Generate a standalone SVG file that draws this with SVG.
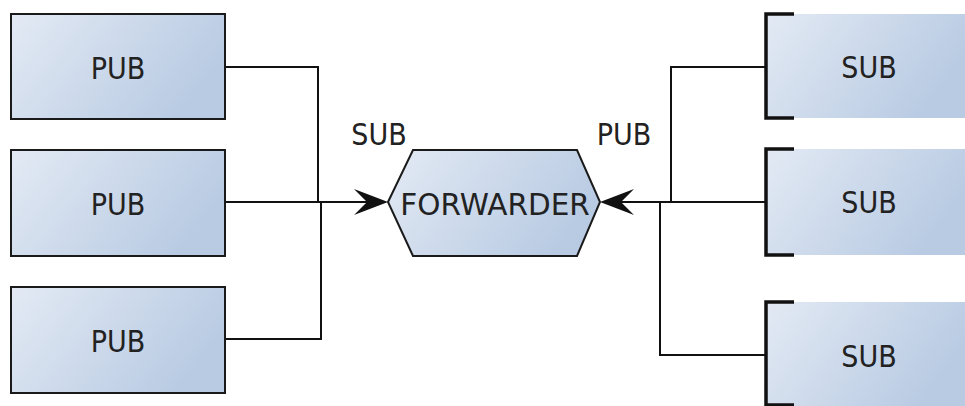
<svg xmlns="http://www.w3.org/2000/svg" width="965" height="406" viewBox="0 0 965 406">
<defs>
<linearGradient id="g" x1="0" y1="0" x2="1" y2="0.4">
<stop offset="0" stop-color="#e3eaf4"/>
<stop offset="1" stop-color="#b9cbe3"/>
</linearGradient>
<style>
.box{fill:url(#g);stroke:#1a1a1a;stroke-width:2}
.fill{fill:url(#g);stroke:none}
.br{fill:none;stroke:#111;stroke-width:3.5}
.t{font-family:"DejaVu Sans Condensed","DejaVu Sans",sans-serif;font-stretch:condensed;font-size:30px;fill:#222;text-anchor:middle}
.fw{font-family:"DejaVu Sans",sans-serif;font-stretch:normal;font-size:29.5px}
.c{fill:none;stroke:#111;stroke-width:2}
.ah{fill:#111;stroke:none}
</style>
</defs>
<rect width="965" height="406" fill="#fff"/>
<g id="connectors">
<polyline class="c" points="225,67 318,67 318,202"/>
<polyline class="c" points="225,339 321,339 321,202"/>
<line class="c" x1="225" y1="202" x2="370" y2="202"/>
<path class="ah" d="M388,202 L354,189 L367,202 L354,215 Z"/>
<polyline class="c" points="765,67 671,67 671,202"/>
<polyline class="c" points="765,355 660,355 660,202"/>
<line class="c" x1="765" y1="202" x2="618" y2="202"/>
<path class="ah" d="M600,202 L634,189 L621,202 L634,215 Z"/>
</g>
<g id="pub1"><rect class="box" x="11" y="14" width="214" height="105"/><text class="t" x="118" y="79">PUB</text></g>
<g id="pub2"><rect class="box" x="11" y="150" width="214" height="106"/><text class="t" x="118" y="215">PUB</text></g>
<g id="pub3"><rect class="box" x="11" y="287" width="214" height="106"/><text class="t" x="118" y="352">PUB</text></g>
<g id="forwarder">
<polygon class="box" stroke-width="1.6" points="388,202 413,150 577,150 600,202 577,256 413,256"/>
<text class="t fw" x="495" y="215">FORWARDER</text>
</g>
<g id="sub-label"><text class="t" x="379" y="145">SUB</text></g>
<g id="pub-label"><text class="t" x="624" y="145">PUB</text></g>
<g id="sub1"><rect class="fill" x="765" y="14" width="200" height="104"/><path class="br" d="M794,14 L766,14 L766,118 L794,118"/><text class="t" x="869" y="78">SUB</text></g>
<g id="sub2"><rect class="fill" x="765" y="149" width="200" height="106"/><path class="br" d="M794,149 L766,149 L766,255 L794,255"/><text class="t" x="869" y="213">SUB</text></g>
<g id="sub3"><rect class="fill" x="765" y="302" width="200" height="104"/><path class="br" d="M794,302 L766,302 L766,405 L794,405"/><text class="t" x="869" y="367">SUB</text></g>
</svg>
